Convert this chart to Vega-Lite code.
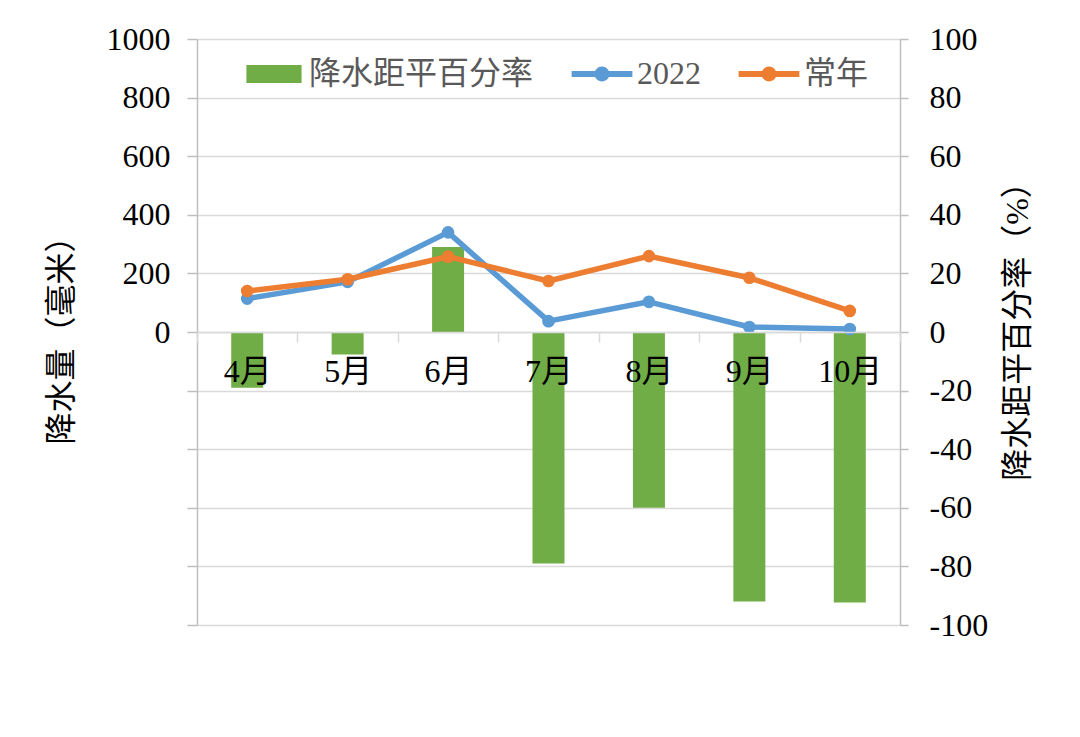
{
  "$schema": "https://vega.github.io/schema/vega-lite/v6.json",
  "width": 703,
  "height": 586,
  "autosize": "none",
  "padding": {"left": 197, "top": 39, "right": 180, "bottom": 112},
  "background": "white",
  "config": {
    "view": {"stroke": null},
    "font": "Liberation Serif, Noto Sans CJK SC"
  },
  "data": {
    "values": [
      {"month": "4月", "pct": -19, "2022": 114, "常年": 140},
      {"month": "5月", "pct": -7.7, "2022": 171, "常年": 180},
      {"month": "6月", "pct": 29, "2022": 340, "常年": 257},
      {"month": "7月", "pct": -79, "2022": 37, "常年": 174},
      {"month": "8月", "pct": -60, "2022": 103, "常年": 259},
      {"month": "9月", "pct": -92, "2022": 17, "常年": 185},
      {"month": "10月", "pct": -92.3, "2022": 10, "常年": 72}
    ]
  },
  "encoding": {
    "x": {
      "field": "month",
      "type": "nominal",
      "sort": ["4月", "5月", "6月", "7月", "8月", "9月", "10月"],
      "scale": {"paddingInner": 0, "paddingOuter": 0},
      "axis": {
        "title": null,
        "offset": -293,
        "tickBand": "extent",
        "labelAngle": 0,
        "domainColor": "#d9d9d9",
        "domainWidth": 1.5,
        "tickColor": "#d9d9d9",
        "tickWidth": 1.5,
        "tickSize": 10,
        "labelPadding": 14,
        "labelFontSize": 32,
        "labelFont": "Liberation Serif, Noto Sans CJK SC",
        "labelColor": "#000000",
        "grid": false,
        "zindex": 1
      }
    }
  },
  "layer": [
    {
      "mark": {"type": "bar", "size": 32},
      "encoding": {
        "y": {
          "field": "pct",
          "type": "quantitative",
          "scale": {"domain": [-100, 100], "nice": false},
          "axis": {
            "orient": "right",
            "values": [-100, -80, -60, -40, -20, 0, 20, 40, 60, 80, 100],
            "labelExpr": "datum.value < 0 ? '-' + abs(datum.value) : '' + datum.value",
            "grid": false,
            "title": "降水距平百分率（%）",
            "titleAngle": 270,
            "titleBaseline": "top",
            "titleY": 284,
            "titleFontSize": 32,
            "titleFontWeight": "normal",
            "titleFont": "Liberation Serif, Noto Sans CJK SC",
            "titleColor": "#000000",
            "titlePadding": 15,
            "domainColor": "#bfbfbf",
            "domainWidth": 1.5,
            "tickColor": "#bfbfbf",
            "tickWidth": 1.5,
            "tickSize": 8,
            "labelPadding": 21,
            "labelFontSize": 32,
            "labelFont": "Liberation Serif",
            "labelColor": "#000000"
          }
        },
        "color": {
          "datum": "降水距平百分率",
          "type": "nominal",
          "title": null,
          "scale": {
            "domain": ["降水距平百分率", "2022", "常年"],
            "range": ["#70ad47", "#5b9bd5", "#ed7d31"]
          },
          "legend": {
            "orient": "none",
            "legendX": 46,
            "legendY": 4,
            "direction": "horizontal",
            "title": null,
            "symbolSize": 3844,
            "labelOffset": 4,
            "columnPadding": 37,
            "labelFontSize": 32,
            "labelFont": "Liberation Serif, Noto Sans CJK SC",
            "labelColor": "#595959",
            "labelLimit": 400,
            "encode": {
              "symbols": {
                "update": {
                  "shape": {"signal": "datum.value === '降水距平百分率' ? 'M-0.89,-0.29L0.89,-0.29L0.89,0.29L-0.89,0.29Z' : 'M-0.98,-0.1L0.98,-0.1L0.98,0.1L-0.98,0.1Z M0.24,0A0.24,0.24 0 1,1 -0.24,0A0.24,0.24 0 1,1 0.24,0Z'"},
                  "fill": {"signal": "datum.value === '降水距平百分率' ? '#70ad47' : (datum.value === '2022' ? '#5b9bd5' : '#ed7d31')"},
                  "stroke": {"value": "transparent"},
                  "strokeWidth": {"value": 0},
                  "opacity": {"value": 1},
                  "fillOpacity": {"value": 1}
                }
              }
            }
          }
        }
      }
    },
    {
      "transform": [{"fold": ["2022", "常年"], "as": ["series", "mm"]}],
      "mark": {
        "type": "line",
        "strokeWidth": 5.5,
        "strokeJoin": "round",
        "strokeCap": "round",
        "point": {"filled": true, "size": 160}
      },
      "encoding": {
        "y": {
          "field": "mm",
          "type": "quantitative",
          "scale": {"domain": [-1000, 1000], "nice": false},
          "axis": {
            "orient": "left",
            "values": [-1000, -800, -600, -400, -200, 0, 200, 400, 600, 800, 1000],
            "labelExpr": "datum.value >= 0 ? '' + datum.value : ''",
            "grid": true,
            "gridColor": "#d9d9d9",
            "gridWidth": 1.5,
            "title": "降水量（毫米）",
            "titleFontSize": 32,
            "titleFontWeight": "normal",
            "titleFont": "Liberation Serif, Noto Sans CJK SC",
            "titleColor": "#000000",
            "titlePadding": 28,
            "domainColor": "#bfbfbf",
            "domainWidth": 1.5,
            "tickColor": "#bfbfbf",
            "tickWidth": 1.5,
            "tickSize": 10,
            "labelPadding": 17,
            "labelFontSize": 32,
            "labelFont": "Liberation Serif",
            "labelColor": "#000000"
          }
        },
        "color": {"field": "series", "type": "nominal", "title": null, "legend": {"title": null}}
      }
    }
  ],
  "resolve": {"scale": {"y": "independent"}}
}
